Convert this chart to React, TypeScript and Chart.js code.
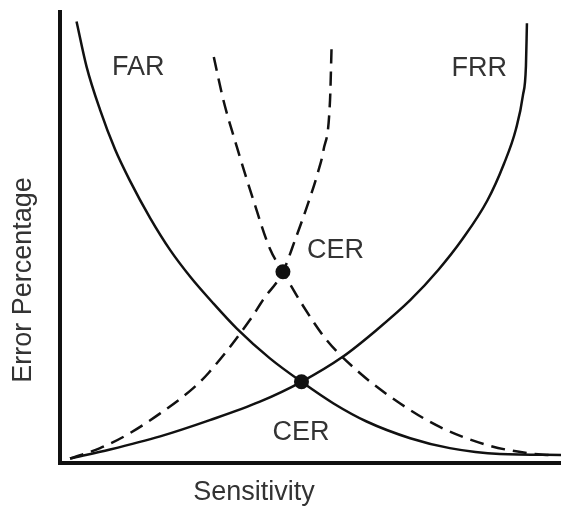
import React, { useEffect, useRef } from "react";
import { Chart, registerables } from "chart.js";

Chart.register(...registerables);

// Sensitivity (x) and Error Percentage (y), normalized 0-100 units
const farX = [3.3, 5.3, 8.0, 11.0, 14.0, 18.0, 22.0, 26.0, 30.6, 35.3, 41.9, 48.2, 54.6, 61.2, 69.9, 77.8, 87.8, 100];
const farY = [97.9, 87.9, 78.3, 69.5, 62.5, 54.3, 47.2, 41.3, 35.4, 29.8, 23.2, 18.0, 13.2, 9.2, 5.5, 3.3, 2.0, 1.8];

const frrX = [2.0, 10.0, 20.0, 29.9, 39.9, 48.2, 56.5, 63.2, 69.9, 75.5, 80.3, 85.3, 88.6, 91.0, 92.4, 93.0, 93.2];
const frrY = [1.0, 3.0, 5.9, 9.5, 13.6, 18.0, 23.6, 29.5, 36.1, 42.8, 49.6, 58.2, 66.3, 74.0, 81.5, 88.0, 97.5];

const farAltX = [30.7, 32.6, 35.3, 38.6, 41.9, 44.5, 48.6, 53.2, 59.9, 67.9, 75.8, 85.2, 93.2, 98.0];
const farAltY = [90.0, 80.5, 70.1, 58.3, 47.5, 42.4, 34.7, 27.3, 19.9, 13.2, 8.0, 4.0, 2.2, 1.7];

const frrAltX = [2.0, 8.0, 13.3, 20.0, 26.6, 29.6, 37.9, 40.6, 44.5, 46.9, 49.5, 51.5, 52.6, 53.9, 54.2];
const frrAltY = [1.0, 3.3, 6.2, 11.0, 16.6, 19.9, 31.7, 36.3, 42.4, 49.4, 57.5, 64.5, 69.4, 80.5, 92.0];

const cerX = [44.5, 48.2];
const cerY = [42.4, 18.0];

const labelTexts = ["FAR", "FRR", "CER", "CER"];
const labelX = [15.6, 83.7, 55.0, 48.1];
const labelY = [87.6, 87.5, 47.2, 6.8];

const xTitle = "Sensitivity";
const yTitle = "Error Percentage";

const pts = (xs: number[], ys: number[]) => xs.map((x, i) => ({ x, y: ys[i] }));

const FONT = '27px "Liberation Sans", Arial, sans-serif';
const TEXT = "#333";
const LINE = "#111";

const textPlugin = {
  id: "texts",
  afterDraw(chart: any) {
    const { ctx, scales, chartArea } = chart;
    ctx.save();
    ctx.font = FONT;
    ctx.fillStyle = TEXT;
    ctx.textAlign = "center";
    ctx.textBaseline = "middle";
    labelTexts.forEach((t, i) => {
      ctx.fillText(t, scales.x.getPixelForValue(labelX[i]), scales.y.getPixelForValue(labelY[i]));
    });
    // axis titles
    ctx.fillText(xTitle, chartArea.left + 194, chartArea.bottom + 30);
    ctx.translate(chartArea.left - 36, chartArea.top + 268);
    ctx.rotate(-Math.PI / 2);
    ctx.fillText(yTitle, 0, 0);
    ctx.restore();
  },
};

export default function App() {
  const ref = useRef<HTMLCanvasElement>(null);
  useEffect(() => {
    if (!ref.current) return;
    const line = (data: any, dashed: boolean) => ({
      data,
      showLine: true,
      borderColor: LINE,
      borderWidth: 2.5,
      borderDash: dashed ? [14, 8] : [],
      pointRadius: 0,
      cubicInterpolationMode: "monotone",
      fill: false,
    });
    const chart = new Chart(ref.current, {
      type: "scatter",
      data: {
        datasets: [
          line(pts(farX, farY), false),
          line(pts(frrX, frrY), false),
          line(pts(farAltX, farAltY), true),
          line(pts(frrAltX, frrAltY), true),
          {
            data: pts(cerX, cerY),
            showLine: false,
            pointRadius: 7.5,
            pointBackgroundColor: LINE,
            pointBorderColor: LINE,
            borderWidth: 0,
          } as any,
        ],
      },
      options: {
        animation: false,
        responsive: false,
        devicePixelRatio: 1,
        layout: { autoPadding: false, padding: { left: 60, right: 0, top: 12, bottom: 45 } },
        plugins: { legend: { display: false }, tooltip: { enabled: false } },
        scales: {
          x: {
            type: "linear",
            min: 0,
            max: 100,
            ticks: { display: false },
            grid: { display: false, drawTicks: false },
            border: { display: true, color: LINE, width: 4 },
          },
          y: {
            type: "linear",
            min: 0,
            max: 100,
            ticks: { display: false },
            grid: { display: false, drawTicks: false },
            border: { display: true, color: LINE, width: 4 },
          },
        },
      },
      plugins: [textPlugin],
    });
    return () => chart.destroy();
  }, []);
  return (
    <div style={{ position: "fixed", left: 0, top: 0, width: 561, height: 508, background: "#fff" }}>
      <canvas ref={ref} width={561} height={508} style={{ width: 561, height: 508, display: "block" }} />
    </div>
  );
}
